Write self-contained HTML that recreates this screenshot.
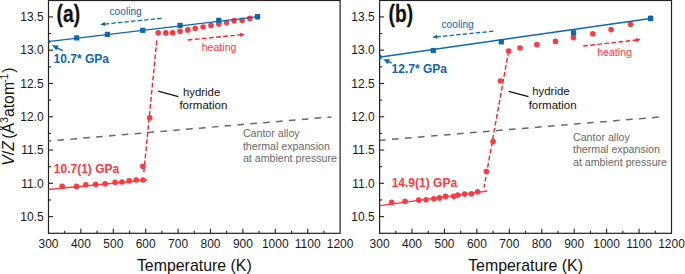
<!DOCTYPE html>
<html><head><meta charset="utf-8"><style>
html,body{margin:0;padding:0;background:#fff;}
body{width:685px;height:274px;overflow:hidden;}
svg{display:block;font-family:"Liberation Sans", sans-serif;}
</style></head><body>
<svg width="685" height="274" viewBox="0 0 685 274">
<rect width="685" height="274" fill="#fff"/>
<rect x="48.50" y="0.50" width="291.60" height="232.80" fill="none" stroke="#222" stroke-width="1.2"/>
<line x1="64.70" y1="233.30" x2="64.70" y2="230.70" stroke="#222" stroke-width="1.1"/>
<line x1="80.90" y1="233.30" x2="80.90" y2="228.80" stroke="#222" stroke-width="1.1"/>
<line x1="97.10" y1="233.30" x2="97.10" y2="230.70" stroke="#222" stroke-width="1.1"/>
<line x1="113.30" y1="233.30" x2="113.30" y2="228.80" stroke="#222" stroke-width="1.1"/>
<line x1="129.50" y1="233.30" x2="129.50" y2="230.70" stroke="#222" stroke-width="1.1"/>
<line x1="145.70" y1="233.30" x2="145.70" y2="228.80" stroke="#222" stroke-width="1.1"/>
<line x1="161.90" y1="233.30" x2="161.90" y2="230.70" stroke="#222" stroke-width="1.1"/>
<line x1="178.10" y1="233.30" x2="178.10" y2="228.80" stroke="#222" stroke-width="1.1"/>
<line x1="194.30" y1="233.30" x2="194.30" y2="230.70" stroke="#222" stroke-width="1.1"/>
<line x1="210.50" y1="233.30" x2="210.50" y2="228.80" stroke="#222" stroke-width="1.1"/>
<line x1="226.70" y1="233.30" x2="226.70" y2="230.70" stroke="#222" stroke-width="1.1"/>
<line x1="242.90" y1="233.30" x2="242.90" y2="228.80" stroke="#222" stroke-width="1.1"/>
<line x1="259.10" y1="233.30" x2="259.10" y2="230.70" stroke="#222" stroke-width="1.1"/>
<line x1="275.30" y1="233.30" x2="275.30" y2="228.80" stroke="#222" stroke-width="1.1"/>
<line x1="291.50" y1="233.30" x2="291.50" y2="230.70" stroke="#222" stroke-width="1.1"/>
<line x1="307.70" y1="233.30" x2="307.70" y2="228.80" stroke="#222" stroke-width="1.1"/>
<line x1="323.90" y1="233.30" x2="323.90" y2="230.70" stroke="#222" stroke-width="1.1"/>
<text transform="translate(48.50,247.90) scale(1.0,1.1)" font-size="12.0" fill="#1a1a1a" text-anchor="middle" font-weight="normal">300</text>
<text transform="translate(80.90,247.90) scale(1.0,1.1)" font-size="12.0" fill="#1a1a1a" text-anchor="middle" font-weight="normal">400</text>
<text transform="translate(113.30,247.90) scale(1.0,1.1)" font-size="12.0" fill="#1a1a1a" text-anchor="middle" font-weight="normal">500</text>
<text transform="translate(145.70,247.90) scale(1.0,1.1)" font-size="12.0" fill="#1a1a1a" text-anchor="middle" font-weight="normal">600</text>
<text transform="translate(178.10,247.90) scale(1.0,1.1)" font-size="12.0" fill="#1a1a1a" text-anchor="middle" font-weight="normal">700</text>
<text transform="translate(210.50,247.90) scale(1.0,1.1)" font-size="12.0" fill="#1a1a1a" text-anchor="middle" font-weight="normal">800</text>
<text transform="translate(242.90,247.90) scale(1.0,1.1)" font-size="12.0" fill="#1a1a1a" text-anchor="middle" font-weight="normal">900</text>
<text transform="translate(275.30,247.90) scale(1.0,1.1)" font-size="12.0" fill="#1a1a1a" text-anchor="middle" font-weight="normal">1000</text>
<text transform="translate(307.70,247.90) scale(1.0,1.1)" font-size="12.0" fill="#1a1a1a" text-anchor="middle" font-weight="normal">1100</text>
<text transform="translate(340.10,247.90) scale(1.0,1.1)" font-size="12.0" fill="#1a1a1a" text-anchor="middle" font-weight="normal">1200</text>
<line x1="48.50" y1="216.61" x2="53.00" y2="216.61" stroke="#222" stroke-width="1.1"/>
<text transform="translate(43.60,220.81) scale(1.0,1.1)" font-size="12.0" fill="#1a1a1a" text-anchor="end" font-weight="normal">10.5</text>
<line x1="48.50" y1="183.32" x2="53.00" y2="183.32" stroke="#222" stroke-width="1.1"/>
<text transform="translate(43.60,187.52) scale(1.0,1.1)" font-size="12.0" fill="#1a1a1a" text-anchor="end" font-weight="normal">11.0</text>
<line x1="48.50" y1="150.04" x2="53.00" y2="150.04" stroke="#222" stroke-width="1.1"/>
<text transform="translate(43.60,154.24) scale(1.0,1.1)" font-size="12.0" fill="#1a1a1a" text-anchor="end" font-weight="normal">11.5</text>
<line x1="48.50" y1="116.75" x2="53.00" y2="116.75" stroke="#222" stroke-width="1.1"/>
<text transform="translate(43.60,120.95) scale(1.0,1.1)" font-size="12.0" fill="#1a1a1a" text-anchor="end" font-weight="normal">12.0</text>
<line x1="48.50" y1="83.47" x2="53.00" y2="83.47" stroke="#222" stroke-width="1.1"/>
<text transform="translate(43.60,87.67) scale(1.0,1.1)" font-size="12.0" fill="#1a1a1a" text-anchor="end" font-weight="normal">12.5</text>
<line x1="48.50" y1="50.18" x2="53.00" y2="50.18" stroke="#222" stroke-width="1.1"/>
<text transform="translate(43.60,54.38) scale(1.0,1.1)" font-size="12.0" fill="#1a1a1a" text-anchor="end" font-weight="normal">13.0</text>
<line x1="48.50" y1="16.90" x2="53.00" y2="16.90" stroke="#222" stroke-width="1.1"/>
<text transform="translate(43.60,21.10) scale(1.0,1.1)" font-size="12.0" fill="#1a1a1a" text-anchor="end" font-weight="normal">13.5</text>
<line x1="48.50" y1="199.97" x2="51.10" y2="199.97" stroke="#222" stroke-width="1.1"/>
<line x1="48.50" y1="166.68" x2="51.10" y2="166.68" stroke="#222" stroke-width="1.1"/>
<line x1="48.50" y1="133.40" x2="51.10" y2="133.40" stroke="#222" stroke-width="1.1"/>
<line x1="48.50" y1="100.11" x2="51.10" y2="100.11" stroke="#222" stroke-width="1.1"/>
<line x1="48.50" y1="66.83" x2="51.10" y2="66.83" stroke="#222" stroke-width="1.1"/>
<line x1="48.50" y1="33.54" x2="51.10" y2="33.54" stroke="#222" stroke-width="1.1"/>
<text x="194.30" y="270.90" font-size="15.9" fill="#111" text-anchor="middle" font-weight="normal">Temperature (K)</text>
<rect x="379.60" y="0.50" width="291.90" height="232.80" fill="none" stroke="#222" stroke-width="1.2"/>
<line x1="395.82" y1="233.30" x2="395.82" y2="230.70" stroke="#222" stroke-width="1.1"/>
<line x1="412.03" y1="233.30" x2="412.03" y2="228.80" stroke="#222" stroke-width="1.1"/>
<line x1="428.25" y1="233.30" x2="428.25" y2="230.70" stroke="#222" stroke-width="1.1"/>
<line x1="444.47" y1="233.30" x2="444.47" y2="228.80" stroke="#222" stroke-width="1.1"/>
<line x1="460.68" y1="233.30" x2="460.68" y2="230.70" stroke="#222" stroke-width="1.1"/>
<line x1="476.90" y1="233.30" x2="476.90" y2="228.80" stroke="#222" stroke-width="1.1"/>
<line x1="493.12" y1="233.30" x2="493.12" y2="230.70" stroke="#222" stroke-width="1.1"/>
<line x1="509.33" y1="233.30" x2="509.33" y2="228.80" stroke="#222" stroke-width="1.1"/>
<line x1="525.55" y1="233.30" x2="525.55" y2="230.70" stroke="#222" stroke-width="1.1"/>
<line x1="541.77" y1="233.30" x2="541.77" y2="228.80" stroke="#222" stroke-width="1.1"/>
<line x1="557.98" y1="233.30" x2="557.98" y2="230.70" stroke="#222" stroke-width="1.1"/>
<line x1="574.20" y1="233.30" x2="574.20" y2="228.80" stroke="#222" stroke-width="1.1"/>
<line x1="590.42" y1="233.30" x2="590.42" y2="230.70" stroke="#222" stroke-width="1.1"/>
<line x1="606.63" y1="233.30" x2="606.63" y2="228.80" stroke="#222" stroke-width="1.1"/>
<line x1="622.85" y1="233.30" x2="622.85" y2="230.70" stroke="#222" stroke-width="1.1"/>
<line x1="639.07" y1="233.30" x2="639.07" y2="228.80" stroke="#222" stroke-width="1.1"/>
<line x1="655.28" y1="233.30" x2="655.28" y2="230.70" stroke="#222" stroke-width="1.1"/>
<text transform="translate(379.60,247.90) scale(1.0,1.1)" font-size="12.0" fill="#1a1a1a" text-anchor="middle" font-weight="normal">300</text>
<text transform="translate(412.03,247.90) scale(1.0,1.1)" font-size="12.0" fill="#1a1a1a" text-anchor="middle" font-weight="normal">400</text>
<text transform="translate(444.47,247.90) scale(1.0,1.1)" font-size="12.0" fill="#1a1a1a" text-anchor="middle" font-weight="normal">500</text>
<text transform="translate(476.90,247.90) scale(1.0,1.1)" font-size="12.0" fill="#1a1a1a" text-anchor="middle" font-weight="normal">600</text>
<text transform="translate(509.33,247.90) scale(1.0,1.1)" font-size="12.0" fill="#1a1a1a" text-anchor="middle" font-weight="normal">700</text>
<text transform="translate(541.77,247.90) scale(1.0,1.1)" font-size="12.0" fill="#1a1a1a" text-anchor="middle" font-weight="normal">800</text>
<text transform="translate(574.20,247.90) scale(1.0,1.1)" font-size="12.0" fill="#1a1a1a" text-anchor="middle" font-weight="normal">900</text>
<text transform="translate(606.63,247.90) scale(1.0,1.1)" font-size="12.0" fill="#1a1a1a" text-anchor="middle" font-weight="normal">1000</text>
<text transform="translate(639.07,247.90) scale(1.0,1.1)" font-size="12.0" fill="#1a1a1a" text-anchor="middle" font-weight="normal">1100</text>
<text transform="translate(671.50,247.90) scale(1.0,1.1)" font-size="12.0" fill="#1a1a1a" text-anchor="middle" font-weight="normal">1200</text>
<line x1="379.60" y1="216.61" x2="384.10" y2="216.61" stroke="#222" stroke-width="1.1"/>
<text transform="translate(374.70,220.81) scale(1.0,1.1)" font-size="12.0" fill="#1a1a1a" text-anchor="end" font-weight="normal">10.5</text>
<line x1="379.60" y1="183.32" x2="384.10" y2="183.32" stroke="#222" stroke-width="1.1"/>
<text transform="translate(374.70,187.52) scale(1.0,1.1)" font-size="12.0" fill="#1a1a1a" text-anchor="end" font-weight="normal">11.0</text>
<line x1="379.60" y1="150.04" x2="384.10" y2="150.04" stroke="#222" stroke-width="1.1"/>
<text transform="translate(374.70,154.24) scale(1.0,1.1)" font-size="12.0" fill="#1a1a1a" text-anchor="end" font-weight="normal">11.5</text>
<line x1="379.60" y1="116.75" x2="384.10" y2="116.75" stroke="#222" stroke-width="1.1"/>
<text transform="translate(374.70,120.95) scale(1.0,1.1)" font-size="12.0" fill="#1a1a1a" text-anchor="end" font-weight="normal">12.0</text>
<line x1="379.60" y1="83.47" x2="384.10" y2="83.47" stroke="#222" stroke-width="1.1"/>
<text transform="translate(374.70,87.67) scale(1.0,1.1)" font-size="12.0" fill="#1a1a1a" text-anchor="end" font-weight="normal">12.5</text>
<line x1="379.60" y1="50.18" x2="384.10" y2="50.18" stroke="#222" stroke-width="1.1"/>
<text transform="translate(374.70,54.38) scale(1.0,1.1)" font-size="12.0" fill="#1a1a1a" text-anchor="end" font-weight="normal">13.0</text>
<line x1="379.60" y1="16.90" x2="384.10" y2="16.90" stroke="#222" stroke-width="1.1"/>
<text transform="translate(374.70,21.10) scale(1.0,1.1)" font-size="12.0" fill="#1a1a1a" text-anchor="end" font-weight="normal">13.5</text>
<line x1="379.60" y1="199.97" x2="382.20" y2="199.97" stroke="#222" stroke-width="1.1"/>
<line x1="379.60" y1="166.68" x2="382.20" y2="166.68" stroke="#222" stroke-width="1.1"/>
<line x1="379.60" y1="133.40" x2="382.20" y2="133.40" stroke="#222" stroke-width="1.1"/>
<line x1="379.60" y1="100.11" x2="382.20" y2="100.11" stroke="#222" stroke-width="1.1"/>
<line x1="379.60" y1="66.83" x2="382.20" y2="66.83" stroke="#222" stroke-width="1.1"/>
<line x1="379.60" y1="33.54" x2="382.20" y2="33.54" stroke="#222" stroke-width="1.1"/>
<text x="525.55" y="270.90" font-size="15.9" fill="#111" text-anchor="middle" font-weight="normal">Temperature (K)</text>
<text transform="translate(13.8,116.6) rotate(-90)" font-size="15.8" text-anchor="middle" fill="#111"><tspan font-style="italic">V</tspan>/<tspan font-style="italic">Z</tspan><tspan dx="-2"> (Å</tspan><tspan font-size="10.6" dy="-6.3">3</tspan><tspan dy="6.3">atom</tspan><tspan font-size="10.6" dy="-6.3" dx="-1.1">-1</tspan><tspan dy="6.3" dx="0.9">)</tspan></text>
<defs><clipPath id="ca"><rect x="48.5" y="0.5" width="291.6" height="232.8"/></clipPath><clipPath id="cb"><rect x="379.6" y="0.5" width="291.9" height="232.8"/></clipPath></defs>
<g clip-path="url(#ca)">
<line x1="44.70" y1="141.40" x2="331.50" y2="116.90" stroke="#686868" stroke-width="1.5" stroke-dasharray="6.6,6.3" stroke-dashoffset="0"/>
<line x1="48.00" y1="189.50" x2="147.00" y2="180.00" stroke="#fb3a41" stroke-width="1.3"/>
<line x1="156.80" y1="40.40" x2="143.70" y2="173.60" stroke="#ff1f26" stroke-width="1.4" stroke-dasharray="4.7,2.4" stroke-dashoffset="0"/>
<circle cx="62.20" cy="186.20" r="2.8" fill="#fb3a41"/>
<circle cx="76.50" cy="186.40" r="2.8" fill="#fb3a41"/>
<circle cx="85.80" cy="184.80" r="2.8" fill="#fb3a41"/>
<circle cx="95.60" cy="184.20" r="2.8" fill="#fb3a41"/>
<circle cx="105.20" cy="183.70" r="2.8" fill="#fb3a41"/>
<circle cx="115.10" cy="182.30" r="2.8" fill="#fb3a41"/>
<circle cx="121.90" cy="182.00" r="2.8" fill="#fb3a41"/>
<circle cx="129.20" cy="180.70" r="2.8" fill="#fb3a41"/>
<circle cx="136.20" cy="180.00" r="2.8" fill="#fb3a41"/>
<circle cx="143.00" cy="180.00" r="2.8" fill="#fb3a41"/>
<circle cx="142.80" cy="166.30" r="2.8" fill="#fb3a41"/>
<circle cx="149.70" cy="117.80" r="2.8" fill="#fb3a41"/>
<circle cx="158.20" cy="32.80" r="2.8" fill="#fb3a41"/>
<circle cx="165.80" cy="32.90" r="2.8" fill="#fb3a41"/>
<circle cx="172.70" cy="32.70" r="2.8" fill="#fb3a41"/>
<circle cx="180.10" cy="31.20" r="2.8" fill="#fb3a41"/>
<circle cx="187.80" cy="29.90" r="2.8" fill="#fb3a41"/>
<circle cx="195.20" cy="28.20" r="2.8" fill="#fb3a41"/>
<circle cx="203.10" cy="27.00" r="2.8" fill="#fb3a41"/>
<circle cx="211.00" cy="25.40" r="2.8" fill="#fb3a41"/>
<circle cx="218.80" cy="23.90" r="2.8" fill="#fb3a41"/>
<circle cx="226.50" cy="22.60" r="2.8" fill="#fb3a41"/>
<circle cx="234.00" cy="20.80" r="2.8" fill="#fb3a41"/>
<circle cx="242.10" cy="20.30" r="2.8" fill="#fb3a41"/>
<circle cx="249.80" cy="18.40" r="2.8" fill="#fb3a41"/>
<circle cx="257.50" cy="16.70" r="2.8" fill="#fb3a41"/>
<line x1="48.00" y1="41.60" x2="257.50" y2="16.70" stroke="#0b67af" stroke-width="1.4"/>
<rect x="74.10" y="35.30" width="5.20" height="5.20" fill="#0b67af"/>
<rect x="104.80" y="31.80" width="5.20" height="5.20" fill="#0b67af"/>
<rect x="140.20" y="27.70" width="5.20" height="5.20" fill="#0b67af"/>
<rect x="177.50" y="22.80" width="5.20" height="5.20" fill="#0b67af"/>
<rect x="216.20" y="17.70" width="5.20" height="5.20" fill="#0b67af"/>
<rect x="254.90" y="14.10" width="5.20" height="5.20" fill="#0b67af"/>
<circle cx="48.50" cy="41.60" r="2.0" fill="#0b67af"/>
</g>
<text transform="translate(56.60,22.20) scale(0.8,1.0)" font-size="24" fill="#111" text-anchor="start" font-weight="bold" stroke="#111" stroke-width="0.25">(a)</text>
<text x="109.50" y="15.00" font-size="10.2" fill="#0b67af" text-anchor="start" font-weight="normal">cooling</text>
<line x1="161.70" y1="18.30" x2="104.48" y2="24.07" stroke="#0b67af" stroke-width="1.3" stroke-dasharray="4.4,2.2" stroke-dashoffset="0"/>
<polygon points="100.20,24.50 104.78,22.03 105.18,26.01" fill="#0b67af"/>
<text x="201.70" y="51.30" font-size="10.6" fill="#fb3a41" text-anchor="start" font-weight="normal">heating</text>
<line x1="187.80" y1="40.00" x2="240.62" y2="34.80" stroke="#ff1f26" stroke-width="1.4" stroke-dasharray="4.7,2.4" stroke-dashoffset="0"/>
<polygon points="244.70,34.40 240.33,36.94 239.92,32.76" fill="#ff1f26"/>
<line x1="62.80" y1="50.60" x2="57.12" y2="47.79" stroke="#0b67af" stroke-width="1.4"/>
<polygon points="52.10,45.30 58.85,45.41 56.28,50.61" fill="#0b67af"/>
<text x="53.60" y="62.80" font-size="12" fill="#0b67af" text-anchor="start" font-weight="bold">10.7* GPa</text>
<text x="53.80" y="172.80" font-size="12" fill="#fb3a41" text-anchor="start" font-weight="bold">10.7(1) GPa</text>
<line x1="158.20" y1="91.10" x2="178.40" y2="96.60" stroke="#111" stroke-width="1.3"/>
<text x="201.60" y="95.60" font-size="11.4" fill="#111" text-anchor="middle" font-weight="normal">hydride</text>
<text x="203.40" y="109.40" font-size="11.5" fill="#111" text-anchor="middle" font-weight="normal">formation</text>
<text x="242.90" y="137.30" font-size="10.65" fill="#686868" text-anchor="start" font-weight="normal">Cantor alloy</text>
<text x="242.90" y="149.70" font-size="10.65" fill="#686868" text-anchor="start" font-weight="normal">thermal expansion</text>
<text x="242.90" y="162.10" font-size="10.65" fill="#686868" text-anchor="start" font-weight="normal">at ambient pressure</text>
<g clip-path="url(#cb)">
<line x1="379.00" y1="140.40" x2="660.00" y2="117.00" stroke="#686868" stroke-width="1.5" stroke-dasharray="6.6,6.45" stroke-dashoffset="0"/>
<line x1="380.00" y1="205.70" x2="487.40" y2="191.00" stroke="#fb3a41" stroke-width="1.3"/>
<line x1="508.60" y1="51.00" x2="484.00" y2="187.50" stroke="#ff1f26" stroke-width="1.4" stroke-dasharray="4.7,2.4" stroke-dashoffset="0"/>
<circle cx="391.70" cy="202.30" r="2.8" fill="#fb3a41"/>
<circle cx="405.10" cy="201.30" r="2.8" fill="#fb3a41"/>
<circle cx="418.70" cy="200.10" r="2.8" fill="#fb3a41"/>
<circle cx="426.00" cy="199.80" r="2.8" fill="#fb3a41"/>
<circle cx="433.80" cy="198.80" r="2.8" fill="#fb3a41"/>
<circle cx="439.50" cy="197.90" r="2.8" fill="#fb3a41"/>
<circle cx="445.50" cy="196.40" r="2.8" fill="#fb3a41"/>
<circle cx="453.70" cy="196.20" r="2.8" fill="#fb3a41"/>
<circle cx="457.80" cy="195.10" r="2.8" fill="#fb3a41"/>
<circle cx="464.60" cy="194.10" r="2.8" fill="#fb3a41"/>
<circle cx="471.50" cy="193.70" r="2.8" fill="#fb3a41"/>
<circle cx="477.60" cy="191.70" r="2.8" fill="#fb3a41"/>
<circle cx="486.40" cy="171.50" r="2.8" fill="#fb3a41"/>
<circle cx="493.10" cy="141.60" r="2.8" fill="#fb3a41"/>
<circle cx="500.40" cy="81.00" r="2.8" fill="#fb3a41"/>
<circle cx="508.60" cy="51.00" r="2.8" fill="#fb3a41"/>
<circle cx="520.00" cy="48.00" r="2.8" fill="#fb3a41"/>
<circle cx="536.90" cy="44.60" r="2.8" fill="#fb3a41"/>
<circle cx="555.50" cy="41.40" r="2.8" fill="#fb3a41"/>
<circle cx="573.40" cy="37.60" r="2.8" fill="#fb3a41"/>
<circle cx="592.80" cy="33.70" r="2.8" fill="#fb3a41"/>
<circle cx="611.10" cy="29.60" r="2.8" fill="#fb3a41"/>
<circle cx="630.50" cy="24.30" r="2.8" fill="#fb3a41"/>
<circle cx="650.60" cy="18.40" r="2.8" fill="#fb3a41"/>
<line x1="379.00" y1="57.20" x2="650.60" y2="18.50" stroke="#0b67af" stroke-width="1.4"/>
<rect x="430.70" y="47.90" width="5.20" height="5.20" fill="#0b67af"/>
<rect x="498.70" y="39.20" width="5.20" height="5.20" fill="#0b67af"/>
<rect x="571.00" y="30.20" width="5.20" height="5.20" fill="#0b67af"/>
<rect x="648.00" y="15.80" width="5.20" height="5.20" fill="#0b67af"/>
<circle cx="379.60" cy="57.00" r="2.4" fill="#0b67af"/>
</g>
<text transform="translate(388.60,22.20) scale(0.8,1.0)" font-size="24" fill="#111" text-anchor="start" font-weight="bold" stroke="#111" stroke-width="0.25">(b)</text>
<text x="441.50" y="27.60" font-size="10.2" fill="#0b67af" text-anchor="start" font-weight="normal">cooling</text>
<line x1="493.40" y1="31.20" x2="436.58" y2="36.87" stroke="#0b67af" stroke-width="1.3" stroke-dasharray="4.4,2.2" stroke-dashoffset="0"/>
<polygon points="432.30,37.30 436.88,34.83 437.27,38.81" fill="#0b67af"/>
<text x="597.20" y="56.30" font-size="10.6" fill="#fb3a41" text-anchor="start" font-weight="normal">heating</text>
<line x1="583.20" y1="46.00" x2="636.53" y2="40.05" stroke="#ff1f26" stroke-width="1.4" stroke-dasharray="4.7,2.4" stroke-dashoffset="0"/>
<polygon points="640.60,39.60 636.26,42.20 635.80,38.02" fill="#ff1f26"/>
<line x1="391.60" y1="63.00" x2="388.41" y2="61.58" stroke="#0b67af" stroke-width="1.4"/>
<polygon points="383.30,59.30 390.01,59.23 387.73,64.34" fill="#0b67af"/>
<text x="391.60" y="72.80" font-size="12" fill="#0b67af" text-anchor="start" font-weight="bold">12.7* GPa</text>
<text x="391.70" y="186.60" font-size="12" fill="#fb3a41" text-anchor="start" font-weight="bold">14.9(1) GPa</text>
<line x1="508.80" y1="91.40" x2="528.50" y2="96.60" stroke="#111" stroke-width="1.3"/>
<text x="550.90" y="95.40" font-size="11.4" fill="#111" text-anchor="middle" font-weight="normal">hydride</text>
<text x="552.60" y="109.40" font-size="11.5" fill="#111" text-anchor="middle" font-weight="normal">formation</text>
<text x="573.00" y="140.90" font-size="10.65" fill="#686868" text-anchor="start" font-weight="normal">Cantor alloy</text>
<text x="573.00" y="153.40" font-size="10.65" fill="#686868" text-anchor="start" font-weight="normal">thermal expansion</text>
<text x="573.00" y="165.80" font-size="10.65" fill="#686868" text-anchor="start" font-weight="normal">at ambient pressure</text>
</svg>
</body></html>
